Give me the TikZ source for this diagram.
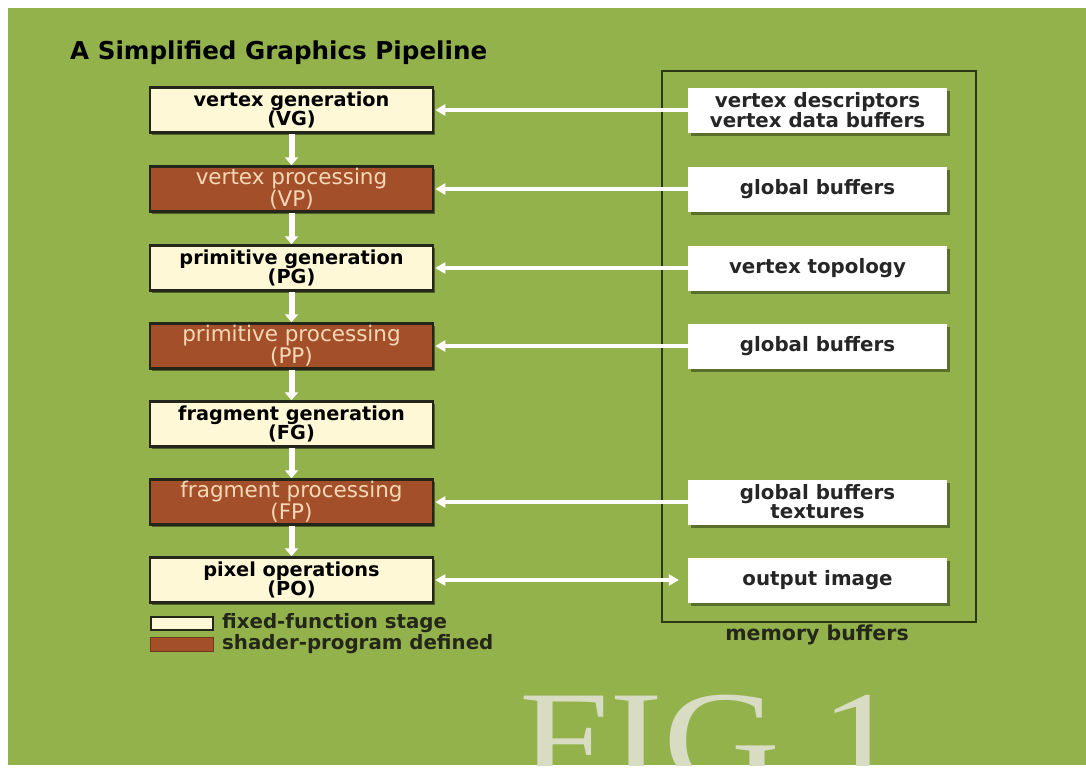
\documentclass[tikz,border=0pt]{standalone}
\usepackage{fontspec}
\setmainfont{DejaVu Sans}
\newfontfamily\figfont{Liberation Serif}
\usetikzlibrary{arrows.meta,shadows}
\definecolor{bg}{HTML}{93B24C}
\definecolor{cream}{HTML}{FFF8D6}
\definecolor{rust}{HTML}{A3502A}
\definecolor{peach}{HTML}{F6D8B6}
\definecolor{dark}{HTML}{24261A}
\definecolor{dkgreen}{HTML}{2C3812}
\definecolor{figgray}{HTML}{D8DCC2}
\tikzset{
  stagebase/.style={minimum width=283pt, minimum height=45pt, inner sep=0pt, align=center,
    draw=dark, line width=2.5pt,
    drop shadow={shadow xshift=2pt, shadow yshift=-2pt, fill=black, opacity=0.45}},
  fixedst/.style={stagebase, fill=cream, text=black, font=\fontsize{19.3}{16.5}\selectfont\bfseries},
  shaderst/.style={stagebase, fill=rust, text=peach, font=\fontsize{21.5}{16.5}\selectfont},
  membox/.style={minimum width=259pt, minimum height=45pt, inner sep=0pt, align=center,
    fill=white, text=black!85, font=\fontsize{19.8}{17}\selectfont\bfseries,
    drop shadow={shadow xshift=3pt, shadow yshift=-3pt, fill=dkgreen, opacity=0.55}},
  memframe/.style={draw=dkgreen, line width=1.8pt, inner sep=0pt},
  conn/.style={draw=white, line width=4pt, -{Triangle[width=11pt,length=10pt]}},
  dconn/.style={draw=white, line width=4pt, {Triangle[width=11pt,length=10pt]}-{Triangle[width=11pt,length=10pt]}},
  downarr/.style={draw=white, line width=6pt, -{Triangle[width=13pt,length=8pt]}},
  legtext/.style={anchor=west, text=dark, font=\fontsize{19.8}{19.8}\selectfont\bfseries, inner sep=0pt},
}
\begin{document}
\begin{tikzpicture}[x=1pt,y=-1pt]
\useasboundingbox (0,0) rectangle (1086,769);
\fill[white] (0,0) rectangle (1086,769);
\fill[bg] (8,8) rectangle (1086,765);

% FIG 1 watermark
\begin{scope}
\clip (8,8) rectangle (1086,765);
\node[anchor=base west, inner sep=0pt, text=figgray, xscale=1.2,
  font=\fontsize{135}{135}\figfont] (fig) at (519,784) {FIG 1};
\end{scope}

% title
\node[anchor=west, inner sep=0pt, font=\fontsize{24.6}{24.6}\selectfont\bfseries, text=black] (title) at (70,53) {A Simplified Graphics Pipeline};

% memory frame
\node[memframe, minimum width=314pt, minimum height=551pt] (frame) at (819,346.5) {};
\node[font=\fontsize{20.5}{20.5}\selectfont\bfseries, text=dark, inner sep=0pt] (memlbl) at (817,635) {memory buffers};

% pipeline stages
\node[fixedst]  (vg) at (291.5,110) {vertex generation\\(VG)};
\node[shaderst] (vp) at (291.5,189) {vertex processing\\(VP)};
\node[fixedst]  (pg) at (291.5,268) {primitive generation\\(PG)};
\node[shaderst] (pp) at (291.5,346) {primitive processing\\(PP)};
\node[fixedst]  (fg) at (291.5,424) {fragment generation\\(FG)};
\node[shaderst] (fp) at (291.5,502) {fragment processing\\(FP)};
\node[fixedst]  (po) at (291.5,580) {pixel operations\\(PO)};

% memory buffers
\node[membox] (m1) at (817.5,110) {vertex descriptors\\vertex data buffers};
\node[membox] (m2) at (817.5,189) {global buffers};
\node[membox] (m3) at (817.5,268) {vertex topology};
\node[membox] (m4) at (817.5,346) {global buffers};
\node[membox] (m6) at (817.5,502) {global buffers\\textures};
\node[membox] (m7) at (817.5,580) {output image};

% vertical flow
\draw[downarr] (vg.south) -- (vp.north);
\draw[downarr] (vp.south) -- (pg.north);
\draw[downarr] (pg.south) -- (pp.north);
\draw[downarr] (pp.south) -- (fg.north);
\draw[downarr] (fg.south) -- (fp.north);
\draw[downarr] (fp.south) -- (po.north);

% memory connections
\draw[conn] (m1.west) -- ([xshift=1pt]vg.east);
\draw[conn] (m2.west) -- ([xshift=1pt]vp.east);
\draw[conn] (m3.west) -- ([xshift=1pt]pg.east);
\draw[conn] (m4.west) -- ([xshift=1pt]pp.east);
\draw[conn] (m6.west) -- ([xshift=1pt]fp.east);
\draw[dconn, shorten <=9pt] (m7.west) -- ([xshift=1pt]po.east);

% legend
\node[draw=dark, line width=2pt, fill=cream, minimum width=62pt, minimum height=13pt, inner sep=0pt] (lf) at (181.5,623) {};
\node[draw=rust!70!black, line width=1pt, fill=rust, minimum width=63pt, minimum height=14pt, inner sep=0pt] (ls) at (181.5,644) {};
\node[legtext] (lft) at (222,623) {fixed-function stage};
\node[legtext] (lst) at (222,644) {shader-program defined};
\end{tikzpicture}
\end{document}
